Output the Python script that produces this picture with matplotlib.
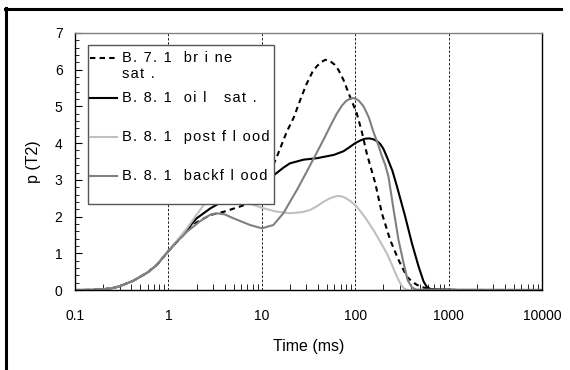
import matplotlib.pyplot as plt
import matplotlib.ticker as mticker
from matplotlib.lines import Line2D
from matplotlib.patches import Rectangle

plt.rcParams['font.family'] = ['Liberation Sans', 'DejaVu Sans']

# T2 distributions
t_brine = [0.1, 0.15, 0.2, 0.25, 0.3, 0.42, 0.6, 0.75, 1.0, 1.25, 1.6, 2.0, 2.8, 3.9,
           5.8, 8.0, 10, 12, 14.5, 18.5, 22, 26, 30, 35, 39, 44, 48, 53, 60, 66, 75, 85, 104,
           118, 133, 164, 193, 237, 291, 358, 410, 458, 520, 586, 700, 10000]
p_brine = [0, 0.004, 0.02, 0.05, 0.1, 0.25, 0.48, 0.68, 1.06, 1.33, 1.62, 1.84, 2.04, 2.13,
           2.27, 2.4, 2.7, 3.15, 3.63, 4.31, 4.7, 5.2, 5.6, 5.95, 6.1, 6.22, 6.27, 6.25, 6.14, 6.0,
           5.72, 5.36, 4.81, 4.3, 3.72, 2.91, 2.09, 1.36, 0.82, 0.36, 0.22, 0.14, 0.08, 0.04, 0, 0]

t_oil = [0.1, 0.15, 0.2, 0.25, 0.3, 0.42, 0.6, 0.75, 1.0, 1.25, 1.6, 2.0, 2.8, 3.6,
         5.0, 7.0, 10, 13.5, 17, 20, 28, 39, 59, 75, 88, 100, 115, 127, 140, 155, 170, 185, 200,
         218, 250, 280, 343, 405, 477, 540, 586, 650, 1000, 1300, 10000]
p_oil = [0, 0.004, 0.02, 0.05, 0.1, 0.25, 0.48, 0.68, 1.06, 1.34, 1.66, 1.95, 2.22, 2.38,
         2.6, 2.8, 3.0, 3.13, 3.33, 3.45, 3.55, 3.59, 3.68, 3.78, 3.9, 4.0, 4.08, 4.12, 4.13, 4.11,
         4.06, 3.98, 3.85, 3.63, 3.25, 2.82, 2.0, 1.27, 0.64, 0.23, 0.08, 0.02, 0.01, 0, 0]

t_post = [0.1, 0.15, 0.2, 0.25, 0.3, 0.42, 0.6, 0.75, 1.0, 1.25, 1.6, 2.0, 2.4, 3.0,
          4.0, 5.0, 7.0, 8.5, 10, 14, 20, 27, 33, 40, 47, 55, 64, 72, 80, 90, 104, 130, 157, 185,
          218, 250, 280, 310, 330, 360, 10000]
p_post = [0, 0.004, 0.02, 0.05, 0.1, 0.25, 0.48, 0.68, 1.06, 1.36, 1.7, 2.05, 2.32, 2.45,
          2.5, 2.48, 2.38, 2.3, 2.24, 2.14, 2.09, 2.12, 2.18, 2.3, 2.42, 2.51, 2.56, 2.55, 2.5,
          2.41, 2.27, 1.95, 1.63, 1.32, 1.0, 0.66, 0.36, 0.14, 0.05, 0, 0]

t_back = [0.1, 0.15, 0.2, 0.25, 0.3, 0.42, 0.6, 0.75, 1.0, 1.25, 1.6, 2.2, 2.8, 3.3,
          4.0, 5.0, 7.5, 10, 13.3, 17, 23.7, 31, 38, 45.7, 55, 63.7, 72, 80, 88, 95, 103, 110,
          123, 140, 157, 175, 190, 210, 227, 258, 291, 330, 364, 405, 450, 10000]
p_back = [0, 0.004, 0.02, 0.05, 0.1, 0.25, 0.48, 0.68, 1.06, 1.33, 1.6, 1.88, 2.05, 2.09,
          2.06, 1.95, 1.77, 1.68, 1.77, 2.09, 2.72, 3.27, 3.7, 4.09, 4.5, 4.81, 5.02, 5.15, 5.21,
          5.23, 5.2, 5.15, 5.0, 4.7, 4.3, 3.98, 3.7, 3.4, 3.09, 2.18, 1.36, 0.73, 0.27, 0.07, 0.01,
          0]

x_ticks = [0.1, 1, 10, 100, 1000, 10000]
x_labels = ['0.1', '1', '10', '100', '1000', '10000']

labels = [['B. 7. 1  br i ne', 'sat .'], ['B. 8. 1  oi l   sat .'],
          ['B. 8. 1  post f l ood'], ['B. 8. 1  backf l ood']]

W, H = 570, 370
fig = plt.figure(figsize=(5.7, 3.7), dpi=100)
ax = fig.add_axes([75 / W, 1 - 290 / H, 467 / W, 257 / H])

dash = (0, (2.6, 2.0))
ax.plot(t_brine, p_brine, color='black', lw=1.5, ls=dash)
ax.plot(t_oil, p_oil, color='black', lw=1.5)
ax.plot(t_post, p_post, color='#c0c0c0', lw=1.5)
ax.plot(t_back, p_back, color='#808080', lw=1.5)

ax.set_xscale('log')
ax.set_xlim(0.1, 10000)
ax.set_ylim(0, 7)
ax.set_xticks(x_ticks)
ax.set_xticklabels(x_labels)
ax.xaxis.set_minor_locator(mticker.LogLocator(base=10, subs=range(2, 10)))
ax.xaxis.set_minor_formatter(mticker.NullFormatter())
ax.yaxis.set_major_locator(mticker.MultipleLocator(1))
ax.yaxis.set_minor_locator(mticker.MultipleLocator(0.2))
ax.tick_params(axis='both', which='both', direction='in', labelsize=10)
ax.tick_params(axis='y', which='major', length=5, pad=9)
ax.tick_params(axis='y', which='minor', length=3)
ax.tick_params(axis='x', which='major', length=0, pad=14)
ax.tick_params(axis='x', which='minor', length=4)
ax.xaxis.grid(True, which='major', color='black', lw=0.6, ls=(0, (3, 2)))

ax.spines['top'].set_color('#808080')
for s in ax.spines.values():
    s.set_linewidth(1.0)

ax.set_xlabel('Time (ms)', fontsize=11.5, labelpad=11)
ax.set_ylabel('p (T2)', fontsize=11.5, labelpad=10)

# legend drawn by hand so the two-line label lines up as in the original
fig.add_artist(Rectangle((88 / W, 1 - 204 / H), 186 / W, 159 / H, transform=fig.transFigure,
                         facecolor='white', edgecolor='#555555', lw=1.0, zorder=5))
styles = [('black', dash), ('black', '-'), ('#c0c0c0', '-'), ('#808080', '-')]
rows = [58, 98, 137, 176]
for (c, ls), y, lab in zip(styles, rows, labels):
    fig.add_artist(Line2D([90 / W, 117 / W], [1 - y / H, 1 - y / H], color=c, ls=ls, lw=1.5,
                          transform=fig.transFigure, zorder=6))
    for k, line in enumerate(lab):
        # hair spaces give the wide letter spacing of the original legend
        fig.text(122 / W, 1 - (y + 16 * k) / H, '\u200a'.join(line), fontsize=10.5,
                 va='center', ha='left', zorder=6)

# outer frame of the original figure
fig.add_artist(Line2D([5 / W, 561 / W], [1 - 8.5 / H, 1 - 8.5 / H], color='black', lw=2.2,
                      transform=fig.transFigure))
fig.add_artist(Line2D([5.5 / W, 5.5 / W], [1 - 8 / H, 0], color='black', lw=2.2,
                      transform=fig.transFigure))

fig.savefig('out.png', dpi=100)
